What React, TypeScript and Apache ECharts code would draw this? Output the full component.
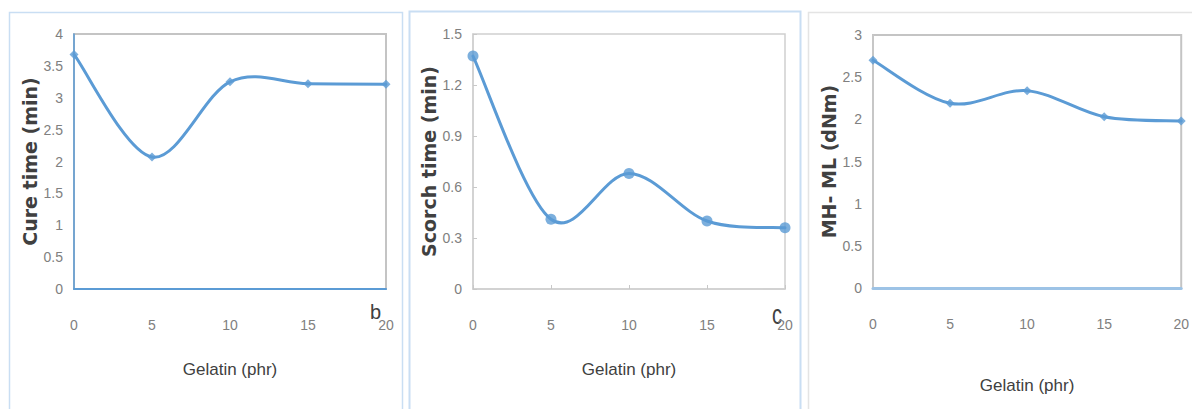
import React, { useEffect, useRef } from "react";
import * as echarts from "echarts";

// Gelatin loading (phr) shared by all three panels
const gelatin = [0, 5, 10, 15, 20];
const xTicks = [0, 5, 10, 15, 20];

// Panel b: cure time (min)
const cureTime = [3.68, 2.07, 3.25, 3.22, 3.21];
// Panel c: scorch time (min)
const scorchTime = [1.37, 0.41, 0.68, 0.4, 0.36];
// Torque difference MH - ML (dNm)
const torqueDiff = [2.7, 2.19, 2.34, 2.03, 1.98];

const panelLetters = ["b", "c"];

const LINE = "#5b9bd5";
const TICK_FONT = "'Liberation Sans', Arial, sans-serif";
const TITLE_FONT = "'DejaVu Sans', Verdana, sans-serif";

const pairs = (ys: number[]) => gelatin.map((x, i) => [x, ys[i]]);

// Catmull-Rom style smoothed curve through all points, built in pixel space
// from the axis scales (control points at 1/6 of the neighbour chord).
const smoothRenderer = (ys: number[]) => (params: any, api: any) => {
  if (params.dataIndex !== 0) return null;
  const pts = gelatin.map((x, i) => api.coord([x, ys[i]]));
  const n = pts.length;
  let d = `M${pts[0][0]},${pts[0][1]}`;
  for (let i = 0; i < n - 1; i++) {
    const p0 = pts[Math.max(i - 1, 0)];
    const p1 = pts[i];
    const p2 = pts[i + 1];
    const p3 = pts[Math.min(i + 2, n - 1)];
    const c1x = p1[0] + (p2[0] - p0[0]) / 6;
    const c1y = p1[1] + (p2[1] - p0[1]) / 6;
    const c2x = p2[0] - (p3[0] - p1[0]) / 6;
    const c2y = p2[1] - (p3[1] - p1[1]) / 6;
    d += ` C${c1x},${c1y} ${c2x},${c2y} ${p2[0]},${p2[1]}`;
  }
  return {
    type: "path",
    shape: { pathData: d },
    style: { fill: "none", stroke: LINE, lineWidth: 3, lineCap: "round", lineJoin: "round" },
  };
};

export default function App() {
  const ref = useRef<HTMLDivElement>(null);

  useEffect(() => {
    if (!ref.current) return;
    const chart = echarts.init(ref.current, undefined, { renderer: "svg" });

    const grids = [
      { left: 74, top: 34, width: 312, height: 255 },
      { left: 473, top: 34, width: 312, height: 255 },
      { left: 873, top: 35, width: 314, height: 253 },
    ];

    const xAxisBase = (idx: number, lineColor: string, lineWidth: number, ticks: boolean, nameGap: number) => ({
      type: "value" as const,
      gridIndex: idx,
      min: xTicks[0],
      max: xTicks[xTicks.length - 1],
      interval: 5,
      splitLine: { show: false },
      axisLine: { show: true, lineStyle: { color: lineColor, width: lineWidth } },
      axisTick: { show: ticks, inside: true, length: 4, lineStyle: { color: "#c8c8c8" } },
      axisLabel: { color: "#808080", fontFamily: TICK_FONT, fontSize: 14, margin: 29 },
      name: "Gelatin (phr)",
      nameLocation: "middle" as const,
      nameGap,
      nameTextStyle: { color: "#404040", fontFamily: TICK_FONT, fontSize: 17, verticalAlign: "top" as const },
    });

    const yAxisBase = (
      idx: number,
      name: string,
      max: number,
      interval: number,
      lineColor: string,
      ticks: boolean,
      fmt?: (v: number) => string
    ) => ({
      type: "value" as const,
      gridIndex: idx,
      min: 0,
      max,
      interval,
      splitLine: { show: false },
      axisLine: { show: true, lineStyle: { color: lineColor, width: 1.5 } },
      axisTick: { show: ticks, inside: true, length: 4, lineStyle: { color: "#c8c8c8" } },
      axisLabel: {
        color: "#808080",
        fontFamily: TICK_FONT,
        fontSize: 14,
        margin: 11,
        formatter: fmt,
      },
      name,
      nameLocation: "middle" as const,
      nameRotate: 90,
      nameGap: 31,
      nameTextStyle: { color: "#404040", fontFamily: TITLE_FONT, fontSize: 19, fontWeight: "bold" as const },
    });

    const curve = (idx: number, data: number[]) => ({
      type: "custom" as const,
      xAxisIndex: idx,
      yAxisIndex: idx,
      data: pairs(data),
      renderItem: smoothRenderer(data),
      encode: { x: 0, y: 1 },
      clip: false,
      silent: true,
    });

    const markers = (idx: number, data: number[], symbol: string, size: number) => ({
      type: "scatter" as const,
      xAxisIndex: idx,
      yAxisIndex: idx,
      data: pairs(data),
      symbol,
      symbolSize: size,
      itemStyle: { color: LINE },
      z: 3,
    });

    chart.setOption({
      animation: false,
      backgroundColor: "#ffffff",
      grid: grids.map((g, i) => ({
        ...g,
        show: true,
        borderColor: i === 1 ? "#d0d0d0" : "#c4c4c4",
        borderWidth: i === 1 ? 1.5 : 2,
        backgroundColor: "transparent",
      })),
      xAxis: [
        xAxisBase(0, LINE, 2, false, 72),
        xAxisBase(1, "#d0d0d0", 1.5, true, 72),
        xAxisBase(2, "#9dc3e6", 3, false, 89),
      ],
      yAxis: [
        yAxisBase(0, "Cure time (min)", 4, 0.5, LINE, false),
        yAxisBase(1, "Scorch time (min)", 1.5, 0.3, "#d0d0d0", true, (v) => (v === 0 ? "0" : v.toFixed(1))),
        yAxisBase(2, "MH- ML (dNm)", 3, 0.5, "#c8c8c8", false),
      ],
      series: [
        curve(0, cureTime),
        markers(0, cureTime, "diamond", 9),
        curve(1, scorchTime),
        markers(1, scorchTime, "circle", 11),
        curve(2, torqueDiff),
        markers(2, torqueDiff, "diamond", 9),
      ],
      graphic: [
        {
          type: "rect",
          shape: { x: 9.5, y: 12.5, width: 393, height: 420 },
          style: { fill: "none", stroke: "#c9def3", lineWidth: 1.5 },
          silent: true,
        },
        {
          type: "rect",
          shape: { x: 409.5, y: 11.5, width: 391, height: 420 },
          style: { fill: "none", stroke: "#c9def3", lineWidth: 2 },
          silent: true,
        },
        {
          type: "rect",
          shape: { x: 808.5, y: 12.5, width: 420, height: 420 },
          style: { fill: "none", stroke: "#e4e4e4", lineWidth: 1.5 },
          silent: true,
        },
        {
          type: "text",
          x: 370,
          y: 302,
          style: { text: panelLetters[0], fill: "#404040", font: `20px ${TICK_FONT}` },
          silent: true,
        },
        {
          type: "text",
          x: 772,
          y: 300,
          scaleY: 1.4,
          style: { text: panelLetters[1], fill: "#404040", font: `20px ${TICK_FONT}` },
          silent: true,
        },
      ],
    });

    return () => chart.dispose();
  }, []);

  return (
    <div
      ref={ref}
      style={{ position: "fixed", left: 0, top: 0, width: 1192, height: 409, background: "#fff" }}
    />
  );
}
